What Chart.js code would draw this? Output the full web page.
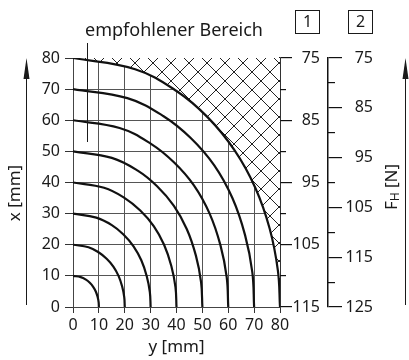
<!DOCTYPE html>
<html>
<head>
<meta charset="utf-8">
<script src="https://cdn.jsdelivr.net/npm/chart.js@4.4.0/dist/chart.umd.min.js"></script>
<style>
  html, body { margin: 0; padding: 0; background: #fff; }
  #wrap { width: 409px; height: 360px; }
</style>
</head>
<body>
<div id="wrap"><canvas id="chart" width="409" height="360"></canvas></div>
<script>
// reach curves, each point is [y mm, x mm]
const arc10 = [[0, 10], [3, 9.6], [5, 8.8], [6.5, 7.8], [7.8, 6.5], [8.8, 5], [9.5, 3.3], [9.9, 1.6], [10, 0]];
const arc20 = [[0, 20], [6, 19.2], [10, 17.5], [13, 15.5], [15.6, 13], [17.6, 10], [19, 6.6], [19.8, 3.2], [20, 0]];
const arc30 = [[0, 30], [9, 28.7], [15, 26.3], [19.5, 23.3], [23.4, 19.5], [26.4, 15], [28.5, 9.9], [29.7, 4.8], [30, 0]];
const arc40 = [[0, 40], [12, 38.3], [20, 35], [26, 31], [31.2, 26], [35.2, 20], [38, 13.2], [39.6, 6.4], [40, 0]];
const arc50 = [[0, 50], [15, 47.9], [25, 43.8], [32.5, 38.8], [39, 32.5], [44, 25], [47.5, 16.5], [49.5, 8], [50, 0]];
const arc60 = [[0, 60], [18, 57.5], [30, 52.5], [39, 46.5], [46.8, 39], [52.8, 30], [57, 19.8], [59.4, 9.6], [60, 0]];
const arc70 = [[0, 70], [21, 67.1], [35, 61.3], [45.5, 54.3], [54.6, 45.5], [61.6, 35], [66.5, 23.1], [69.3, 11.2], [70, 0]];
const arc80 = [[0, 80], [24, 76.4], [40, 69.4], [52, 61], [62.4, 50.4], [70.4, 38.4], [76, 25.2], [79.2, 11.6], [80, 0]];
const arcs = [arc10, arc20, arc30, arc40, arc50, arc60, arc70, arc80];

// force scales on the right: [1] and [2]
const force1Major = [75, 85, 95, 105, 115];
const force1Minor = [80, 90, 100, 110];
const force2Major = [75, 85, 95, 105, 115, 125];
const force2Minor = [80, 90, 100, 110, 120];

const FONT = "'Noto Sans', 'DejaVu Sans', sans-serif";
const INK = '#1a1a1a';
Chart.defaults.font.family = FONT;
Chart.defaults.color = INK;

const ctx = document.getElementById('chart').getContext('2d');

// cross hatch for the region outside the recommended range
function crossHatch() {
  const tile = document.createElement('canvas');
  tile.width = 18;
  tile.height = 18;
  const g = tile.getContext('2d');
  g.fillStyle = '#fff';
  g.fillRect(0, 0, 18, 18);
  g.strokeStyle = '#222';
  g.lineWidth = 1;
  g.beginPath();
  g.moveTo(-1, -1); g.lineTo(19, 19);
  g.moveTo(19, -1); g.lineTo(-1, 19);
  g.stroke();
  return ctx.createPattern(tile, 'repeat');
}

const datasets = arcs.map((pts, i) => ({
  data: pts.map(([y, x]) => ({ x: y, y: x })),
  borderColor: '#111',
  borderWidth: 2.2,
  pointRadius: 0,
  tension: 0.4,
  fill: i === arcs.length - 1 ? 'end' : false,
  backgroundColor: i === arcs.length - 1 ? crossHatch() : 'transparent',
}));

const setTicks = (values) => (scale) => {
  scale.ticks = values.map(v => ({ value: v }));
};

// empty right-hand box that only takes up room
const gap = (weight, width) => ({
  type: 'linear',
  position: 'right',
  weight,
  ticks: { display: false },
  grid: { display: false },
  border: { display: false },
  afterFit: (s) => { s.width = width; },
});

// arrows, axis names, header and scale markers
const extras = {
  id: 'extras',
  afterDraw(chart) {
    const c = chart.ctx;
    c.save();
    c.strokeStyle = INK;
    c.fillStyle = INK;
    c.lineWidth = 1;

    const arrow = (x, top, bottom) => {
      c.beginPath();
      c.moveTo(x + 0.5, bottom);
      c.lineTo(x + 0.5, top + 10);
      c.stroke();
      c.beginPath();
      c.moveTo(x + 0.5, top);
      c.lineTo(x + 3.5, top + 21);
      c.lineTo(x - 2.5, top + 21);
      c.closePath();
      c.fill();
    };
    arrow(26, 58, 305);
    arrow(405, 58, 305);

    // x [mm] on the left
    c.font = '17px ' + FONT;
    c.textAlign = 'center';
    c.textBaseline = 'middle';
    c.save();
    c.translate(15, 193);
    c.rotate(-Math.PI / 2);
    c.fillText('x [mm]', 0, 0);
    c.restore();

    // F_H [N] on the right
    c.save();
    c.translate(392, 187);
    c.rotate(-Math.PI / 2);
    c.textAlign = 'left';
    c.font = '17px ' + FONT;
    const wF = c.measureText('F').width;
    const wRest = c.measureText(' [N]').width;
    c.font = '12px ' + FONT;
    const wH = c.measureText('H').width;
    let x0 = -(wF + wH + wRest) / 2;
    c.font = '17px ' + FONT;
    c.fillText('F', x0, 0);
    c.font = '12px ' + FONT;
    c.fillText('H', x0 + wF, 4);
    c.font = '17px ' + FONT;
    c.fillText(' [N]', x0 + wF + wH, 0);
    c.restore();

    // header and its leader line
    c.font = '18px ' + FONT;
    c.textAlign = 'center';
    c.fillText('empfohlener Bereich', 174, 31);
    c.beginPath();
    c.moveTo(87.5, 43);
    c.lineTo(87.5, 142);
    c.stroke();

    // boxed scale numbers
    const boxed = (label, x, y) => {
      c.strokeRect(x + 0.5, y + 0.5, 24, 23);
      c.font = '16px ' + FONT;
      c.fillText(label, x + 12.5, y + 12.5);
    };
    boxed('1', 295, 10);
    boxed('2', 348, 10);
    c.restore();
  }
};

new Chart(ctx, {
  type: 'line',
  data: { datasets },
  options: {
    responsive: false,
    animation: false,
    devicePixelRatio: 1,
    layout: { padding: { top: 58, left: 0, right: 0, bottom: 0 } },
    plugins: {
      legend: { display: false },
      tooltip: { enabled: false },
    },
    scales: {
      x: {
        type: 'linear',
        position: 'bottom',
        min: 0,
        max: 80,
        ticks: { stepSize: 10, padding: 3, font: { size: 16 }, color: INK },
        grid: { color: '#555', lineWidth: 1, tickLength: 6, tickColor: '#333' },
        border: { color: '#444', width: 1 },
        title: { display: true, text: 'y [mm]', font: { size: 17 }, color: INK, padding: { top: 0, bottom: 3 } },
        afterFit: (s) => { s.height = 53; },
      },
      y: {
        type: 'linear',
        position: 'left',
        min: 0,
        max: 80,
        ticks: { stepSize: 10, padding: 5, font: { size: 16 }, color: INK },
        grid: { color: '#555', lineWidth: 1, tickLength: 8, tickColor: '#333' },
        border: { color: '#444', width: 1 },
        afterFit: (s) => { s.width = 73; },
      },
      f1minor: {
        type: 'linear',
        position: 'right',
        weight: 0,
        reverse: true,
        min: 75,
        max: 115,
        afterBuildTicks: setTicks(force1Minor),
        ticks: { display: false },
        grid: { drawOnChartArea: false, tickLength: 6, color: '#111', lineWidth: 1.2 },
        border: { display: false },
        afterFit: (s) => { s.width = 0; },
      },
      f1: {
        type: 'linear',
        position: 'right',
        weight: 1,
        reverse: true,
        min: 75,
        max: 115,
        afterBuildTicks: setTicks(force1Major),
        ticks: { crossAlign: 'far', font: { size: 16 }, color: INK },
        grid: { drawOnChartArea: false, tickLength: 12, color: '#111', lineWidth: 1.2 },
        border: { color: '#111', width: 1.5 },
        afterFit: (s) => { s.width = 40; },
      },
      gap1: gap(2, 8),
      f2minor: {
        type: 'linear',
        position: 'right',
        weight: 3,
        reverse: true,
        min: 75,
        max: 125,
        afterBuildTicks: setTicks(force2Minor),
        ticks: { display: false },
        grid: { drawOnChartArea: false, tickLength: 7, color: '#111', lineWidth: 1.2 },
        border: { display: false },
        afterFit: (s) => { s.width = 0; },
      },
      f2: {
        type: 'linear',
        position: 'right',
        weight: 4,
        reverse: true,
        min: 75,
        max: 125,
        afterBuildTicks: setTicks(force2Major),
        ticks: { crossAlign: 'far', font: { size: 16 }, color: INK },
        grid: { drawOnChartArea: false, tickLength: 14, color: '#111', lineWidth: 1.2 },
        border: { color: '#111', width: 1.5 },
        afterFit: (s) => { s.width = 45; },
      },
      gap2: gap(5, 36),
    },
  },
  plugins: [extras],
});
</script>
</body>
</html>
